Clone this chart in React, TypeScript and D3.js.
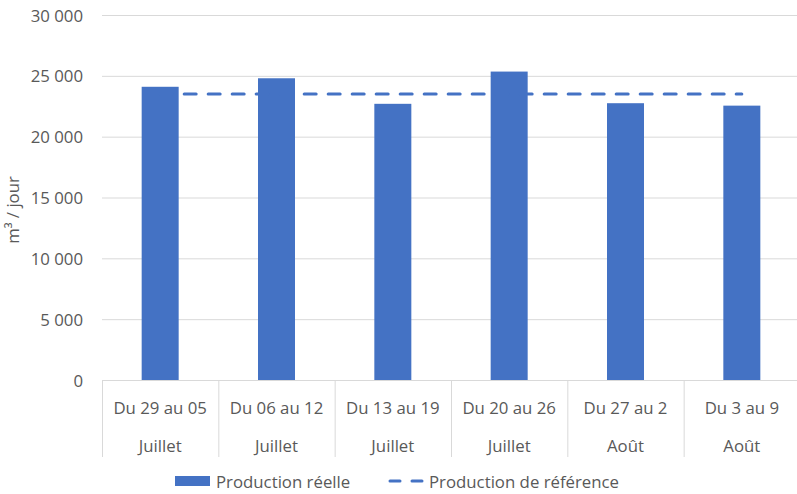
import { useEffect, useRef } from "react";
import * as d3 from "d3";

const weeks = ["Du 29 au 05", "Du 06 au 12", "Du 13 au 19", "Du 20 au 26", "Du 27 au 2", "Du 3 au 9"];
const months = ["Juillet", "Juillet", "Juillet", "Juillet", "Août", "Août"];
const production = [24100, 24800, 22700, 25350, 22750, 22550];
const reference = [23500, 23500, 23500, 23500, 23500, 23500];
const yTicks = [0, 5000, 10000, 15000, 20000, 25000, 30000];

const W = 797;
const H = 494;
const FONT = "'Open Sans', 'Noto Sans', sans-serif";
const FS = 16.8;
const BLUE = "#4472c4";
const TEXT = "#595959";
const GRID = "#d9d9d9";

export default function App() {
    const svgEl = useRef<SVGSVGElement>(null);

    useEffect(() => {
        const svg = d3.select(svgEl.current);
        svg.selectChildren().remove();

        const x = d3.scaleBand<number>()
            .domain(d3.range(weeks.length))
            .range([102, 800])
            .paddingInner(0)
            .paddingOuter(0);
        const y = d3.scaleLinear().domain([0, 30000]).range([380, 15]);
        const barW = 37;

        // gridlines + y labels
        svg.append("g").selectAll("line").data(yTicks.filter(t => t > 0)).join("line")
            .attr("x1", 102).attr("x2", 800)
            .attr("y1", d => y(d) + 0.5).attr("y2", d => y(d) + 0.5)
            .attr("stroke", GRID).attr("stroke-width", 1);

        svg.append("g").selectAll("text").data(yTicks).join("text")
            .attr("x", 83).attr("y", d => y(d))
            .attr("text-anchor", "end").attr("dominant-baseline", "central")
            .attr("font-family", FONT).attr("font-size", FS).attr("fill", TEXT)
            .text(d => d3.format(",")(d).replace(/,/g, " "));

        svg.append("text")
            .attr("transform", `translate(12, 210) rotate(-90)`)
            .attr("text-anchor", "middle").attr("dominant-baseline", "central")
            .attr("font-family", FONT).attr("font-size", FS).attr("fill", TEXT)
            .text("m³ / jour");

        // bars
        svg.append("g").selectAll("rect").data(production).join("rect")
            .attr("x", (_, i) => x(i)! + x.bandwidth() / 2 - barW / 2)
            .attr("width", barW)
            .attr("y", d => y(d))
            .attr("height", d => y(0) - y(d))
            .attr("fill", BLUE);

        // reference line
        const line = d3.line<number>()
            .x((_, i) => x(i)! + x.bandwidth() / 2)
            .y(d => y(d));
        svg.append("path")
            .attr("d", line(reference))
            .attr("fill", "none").attr("stroke", BLUE)
            .attr("stroke-width", 3).attr("stroke-dasharray", "12 12")
            .attr("stroke-linecap", "round");

        // category axis
        const ax = svg.append("g");
        ax.append("line").attr("x1", 102).attr("x2", 800).attr("y1", 380.5).attr("y2", 380.5)
            .attr("stroke", GRID);
        ax.selectAll("line.sep").data(d3.range(weeks.length + 1)).join("line")
            .attr("class", "sep")
            .attr("x1", i => 102.5 + i * x.step()).attr("x2", i => 102.5 + i * x.step())
            .attr("y1", 380).attr("y2", 457)
            .attr("stroke", GRID);
        ax.selectAll("text.wk").data(weeks).join("text")
            .attr("class", "wk")
            .attr("x", (_, i) => x(i)! + x.bandwidth() / 2).attr("y", 407)
            .attr("text-anchor", "middle").attr("dominant-baseline", "central")
            .attr("font-family", FONT).attr("font-size", FS).attr("fill", TEXT)
            .text(d => d);
        ax.selectAll("text.mo").data(months).join("text")
            .attr("class", "mo")
            .attr("x", (_, i) => x(i)! + x.bandwidth() / 2).attr("y", 445)
            .attr("text-anchor", "middle").attr("dominant-baseline", "central")
            .attr("font-family", FONT).attr("font-size", FS).attr("fill", TEXT)
            .text(d => d);

        // legend
        const lg = svg.append("g");
        lg.append("rect").attr("x", 175).attr("y", 476).attr("width", 35).attr("height", 10).attr("fill", BLUE);
        lg.append("text").attr("x", 216).attr("y", 481)
            .attr("dominant-baseline", "central")
            .attr("font-family", FONT).attr("font-size", FS).attr("fill", TEXT)
            .text("Production réelle");
        lg.append("line").attr("x1", 390).attr("x2", 424).attr("y1", 481).attr("y2", 481)
            .attr("stroke", BLUE).attr("stroke-width", 3)
            .attr("stroke-dasharray", "10 12").attr("stroke-linecap", "round");
        lg.append("text").attr("x", 429).attr("y", 481)
            .attr("dominant-baseline", "central")
            .attr("font-family", FONT).attr("font-size", FS).attr("fill", TEXT)
            .text("Production de référence");
    }, []);

    return <svg ref={svgEl} width={W} height={H}
        style={{ position: "absolute", left: 0, top: 0, background: "#fff" }}>
    </svg>;
}
